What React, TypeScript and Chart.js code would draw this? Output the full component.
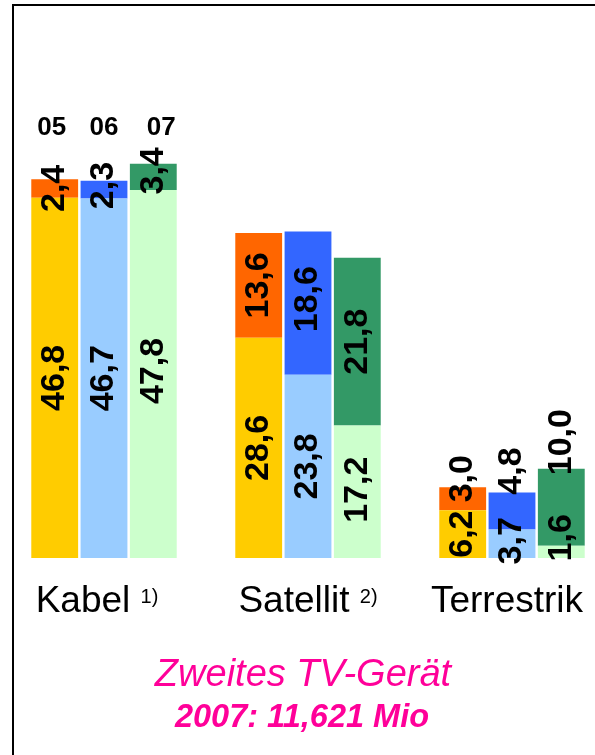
import React, { useEffect, useRef } from "react";
import { Chart, registerables } from "chart.js";

Chart.register(...registerables);

const categories = ["Kabel", "Satellit", "Terrestrik"];
const footnotes = ["1)", "2)", ""];
const years = ["05", "06", "07"];
const base05 = [46.8, 28.6, 6.2];
const top05 = [2.4, 13.6, 3.0];
const base06 = [46.7, 23.8, 3.7];
const top06 = [2.3, 18.6, 4.8];
const base07 = [47.8, 17.2, 1.6];
const top07 = [3.4, 21.8, 10.0];
const titleText = "Zweites TV-Gerät";
const subtitleText = "2007: 11,621 Mio";

// styling
const FONT = "'Liberation Sans', Arial, Helvetica, sans-serif";
const baseColors = ["#FFCC00", "#99CCFF", "#CCFFCC"];
const topColors = ["#FF6600", "#3366FF", "#339966"];
const MAGENTA = "#FF0099";
// pixel nudges for value labels (dataset order: b05, t05, b06, t06, b07, t07)
const labelNudge = [
  [0, 0, 0],
  [0, 0, -20],
  [0, 0, -3],
  [-4, -4, -40],
  [-3, -2, -14],
  [-6, 0, -65],
];
const yearNudge = [-3, 0, 8];
const categoryNudge = [-7, 0, -5];

const fmt = (v: number) => v.toFixed(1).replace(".", ",");

const labelPlugin = {
  id: "customLabels",
  afterDatasetsDraw(chart: any) {
    const ctx = chart.ctx;
    ctx.save();
    ctx.fillStyle = "#000";
    ctx.font = `bold 34px ${FONT}`;
    ctx.textAlign = "center";
    ctx.textBaseline = "middle";
    chart.data.datasets.forEach((ds: any, di: number) => {
      const meta = chart.getDatasetMeta(di);
      meta.data.forEach((el: any, i: number) => {
        const cy = (el.y + el.base) / 2 + labelNudge[di][i];
        ctx.save();
        ctx.translate(el.x, cy);
        ctx.rotate(-Math.PI / 2);
        ctx.fillText(fmt(ds.data[i]), 0, 0);
        ctx.restore();
      });
    });
    ctx.restore();
  },
  afterDraw(chart: any) {
    const ctx = chart.ctx;
    const { bottom } = chart.chartArea;
    const xs = chart.scales.x;
    const ys = chart.scales.y;
    ctx.save();
    ctx.fillStyle = "#000";
    // year headers
    ctx.font = `bold 26px ${FONT}`;
    ctx.textAlign = "center";
    ctx.textBaseline = "alphabetic";
    years.forEach((yr, k) => {
      const el = chart.getDatasetMeta(k * 2).data[0];
      ctx.fillText(yr, el.x + yearNudge[k], ys.getPixelForValue(55));
    });
    // category labels with superscripts
    categories.forEach((c, i) => {
      const cx = xs.getPixelForValue(i) + categoryNudge[i];
      ctx.font = `37px ${FONT}`;
      const main = footnotes[i] ? c + " " : c;
      const w1 = ctx.measureText(main).width;
      ctx.font = `20px ${FONT}`;
      const w2 = footnotes[i] ? ctx.measureText(footnotes[i]).width : 0;
      const start = cx - (w1 + w2) / 2;
      ctx.textAlign = "left";
      ctx.font = `37px ${FONT}`;
      ctx.fillText(main, start, bottom + 54);
      if (footnotes[i]) {
        ctx.font = `20px ${FONT}`;
        ctx.fillText(footnotes[i], start + w1, bottom + 45);
      }
    });
    // title
    ctx.fillStyle = MAGENTA;
    ctx.textAlign = "center";
    ctx.font = `italic 38px ${FONT}`;
    ctx.fillText(titleText, 303, bottom + 128);
    ctx.font = `italic bold 32.5px ${FONT}`;
    ctx.fillText(subtitleText, 302, bottom + 169);
    ctx.restore();
  },
};

export default function App() {
  const ref = useRef<HTMLCanvasElement | null>(null);
  useEffect(() => {
    if (!ref.current) return;
    const bases = [base05, base06, base07];
    const tops = [top05, top06, top07];
    const datasets: any[] = [];
    years.forEach((yr, k) => {
      datasets.push({
        label: yr + " base",
        data: bases[k],
        backgroundColor: baseColors[k],
        stack: "s" + yr,
        borderWidth: 0,
      });
      datasets.push({
        label: yr + " top",
        data: tops[k],
        backgroundColor: topColors[k],
        stack: "s" + yr,
        borderWidth: 0,
      });
    });
    const chart = new Chart(ref.current, {
      type: "bar",
      data: { labels: categories, datasets },
      options: {
        responsive: false,
        devicePixelRatio: 1,
        animation: false,
        layout: { padding: { left: 2, right: 6, top: 96, bottom: 197 } },
        datasets: {
          bar: { categoryPercentage: 0.725, barPercentage: 0.95 },
        },
        plugins: {
          legend: { display: false },
          tooltip: { enabled: false },
          title: { display: false },
        },
        scales: {
          x: { display: false, stacked: true },
          y: { display: false, stacked: true, min: 0, max: 60 },
        },
      } as any,
      plugins: [labelPlugin],
    });
    return () => chart.destroy();
  }, []);
  return (
    <div
      style={{
        position: "fixed",
        left: 0,
        top: 0,
        width: 595,
        height: 755,
        overflow: "hidden",
        background: "#fff",
      }}
    >
      <div
        style={{
          position: "absolute",
          left: 12,
          top: 4,
          width: 660,
          height: 820,
          border: "2px solid #000",
          boxSizing: "border-box",
        }}
      />
      <canvas
        ref={ref}
        width={620}
        height={755}
        style={{ position: "absolute", left: 0, top: 0, width: 620, height: 755 }}
      />
    </div>
  );
}
